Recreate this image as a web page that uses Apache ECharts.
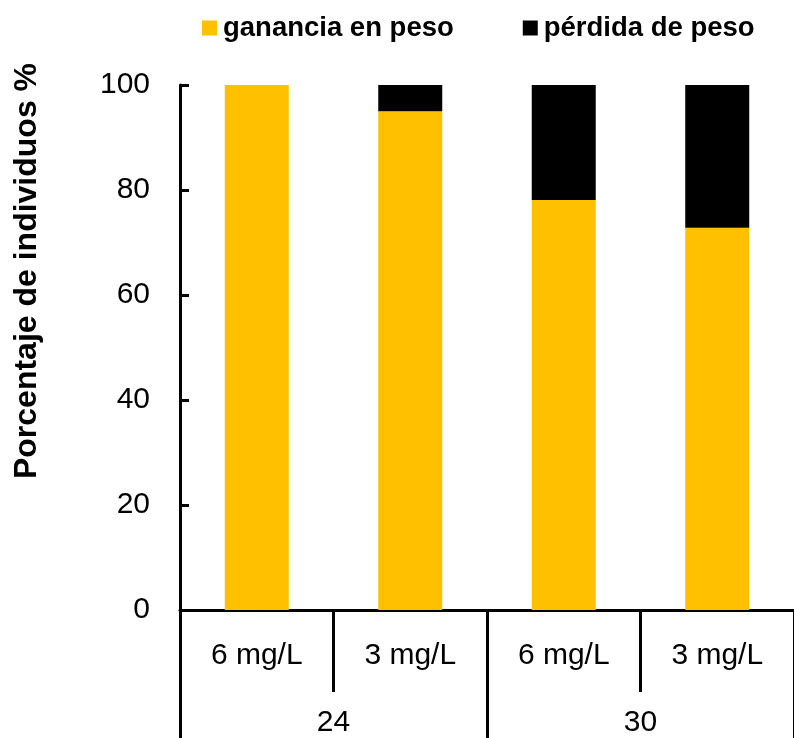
<!DOCTYPE html>
<html>
<head>
<meta charset="utf-8">
<script src="https://cdn.jsdelivr.net/npm/echarts@6/dist/echarts.min.js"></script>
<style>
  html, body { margin: 0; padding: 0; background: #fff; }
  #chart { width: 794px; height: 738px; }
</style>
</head>
<body>
<div id="chart"></div>
<script>
// Concentration per bar, grouped by temperature
const doses = ['6 mg/L', '3 mg/L', '6 mg/L', '3 mg/L'];
const groups = ['24', '30'];
const yTicks = [0, 20, 40, 60, 80, 100];

// Share of individuals (%)
const ganancia = [100, 95, 78.1, 72.8];
const perdida = [0, 5, 21.9, 27.2];

const seriesNames = ['ganancia en peso', 'pérdida de peso'];
const font = 'Liberation Sans, Arial, sans-serif';

const chart = echarts.init(document.getElementById('chart'), null, { renderer: 'canvas' });

chart.setOption({
  animation: false,
  backgroundColor: '#ffffff',
  textStyle: { fontFamily: font },
  legend: {
    top: 9,
    left: 197,
    itemWidth: 15,
    itemHeight: 15,
    itemGap: 69,
    icon: 'rect',
    textStyle: { fontSize: 27.5, fontWeight: 'bold', color: '#000', fontFamily: font, padding: [0, 0, 0, 1] },
    data: seriesNames
  },
  grid: { left: 180, right: -10, top: 85, bottom: 128, containLabel: false },
  xAxis: [
    {
      type: 'category',
      data: doses,
      position: 'bottom',
      axisLine: { show: true, lineStyle: { color: '#000', width: 3 } },
      axisTick: { show: true, interval: 0, length: 82, lineStyle: { color: '#000', width: 3 } },
      axisLabel: { interval: 0, margin: 31, fontSize: 30, color: '#000', fontFamily: font }
    },
    {
      type: 'category',
      data: groups,
      position: 'bottom',
      axisLine: { show: false },
      axisTick: { show: true, interval: 0, length: 130, lineStyle: { color: '#000', width: 3 } },
      axisLabel: { interval: 0, margin: 98, fontSize: 30, color: '#000', fontFamily: font }
    }
  ],
  yAxis: {
    type: 'value',
    min: yTicks[0],
    max: yTicks[yTicks.length - 1],
    interval: yTicks[1] - yTicks[0],
    splitLine: { show: false },
    axisLine: { show: true, lineStyle: { color: '#000', width: 3 } },
    axisTick: { show: true, inside: true, length: 9, lineStyle: { color: '#000', width: 3 } },
    axisLabel: { margin: 30, fontSize: 30, color: '#000', fontFamily: font }
  },
  graphic: [{
    type: 'text',
    x: 27,
    y: 271,
    rotation: Math.PI / 2,
    style: {
      text: 'Porcentaje de individuos %',
      fontSize: 32,
      fontWeight: 'bold',
      fontFamily: font,
      fill: '#000',
      align: 'center',
      verticalAlign: 'middle'
    }
  }],
  series: [
    {
      name: seriesNames[0],
      type: 'bar',
      stack: 'total',
      xAxisIndex: 0,
      barWidth: 64,
      itemStyle: { color: '#FFC000' },
      data: ganancia
    },
    {
      name: seriesNames[1],
      type: 'bar',
      stack: 'total',
      xAxisIndex: 0,
      barWidth: 64,
      itemStyle: { color: '#000000' },
      data: perdida
    }
  ]
});
</script>
</body>
</html>
